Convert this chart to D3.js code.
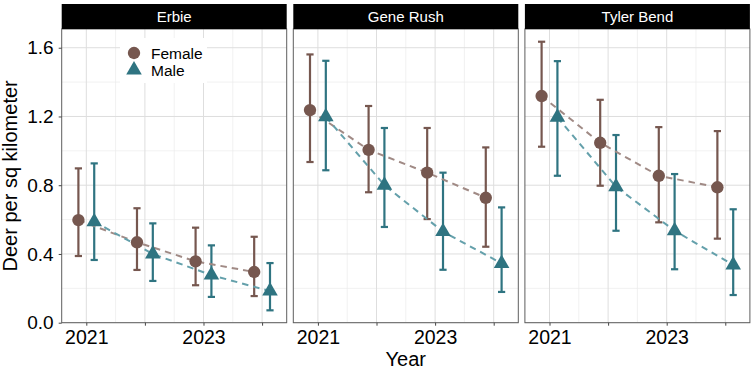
<!DOCTYPE html>
<html>
<head>
<meta charset="utf-8">
<script src="https://cdn.jsdelivr.net/npm/d3@7"></script>
<style>
  body { margin: 0; background: #fff; }
  svg { font-family: "Liberation Sans", Arial, sans-serif; }
</style>
</head>
<body>
<div id="chart"></div>
<script>
const sites = ["Erbie", "Gene Rush", "Tyler Bend"];
const years = [2021, 2022, 2023, 2024];
const yearLabels = ["2021", "", "2023", ""];
const yTicks = [0, 0.4, 0.8, 1.2, 1.6];
const yMinor = [0.2, 0.6, 1.0, 1.4];

// one row per site, one value per year
const femaleEst = [[0.597, 0.468, 0.357, 0.295], [1.237, 1.006, 0.873, 0.727], [1.319, 1.047, 0.855, 0.788]];
const femaleLo  = [[0.388, 0.307, 0.218, 0.155], [0.935, 0.759, 0.603, 0.442], [1.024, 0.797, 0.584, 0.489]];
const femaleHi  = [[0.898, 0.666, 0.553, 0.500], [1.561, 1.261, 1.133, 1.020], [1.635, 1.297, 1.138, 1.115]];
const maleEst   = [[0.588, 0.400, 0.277, 0.184], [1.198, 0.800, 0.530, 0.345], [1.195, 0.791, 0.535, 0.336]];
const maleLo    = [[0.365, 0.243, 0.150, 0.072], [0.887, 0.557, 0.308, 0.179], [0.855, 0.535, 0.311, 0.161]];
const maleHi    = [[0.927, 0.578, 0.450, 0.347], [1.524, 1.133, 0.873, 0.671], [1.522, 1.092, 0.865, 0.660]];

const sexes = [
    { name: "Female", est: femaleEst, lo: femaleLo, hi: femaleHi, color: "#76574f", line: "#a08a85", dodge: -0.135, shape: d3.symbolCircle, size: 120 },
    { name: "Male", est: maleEst, lo: maleLo, hi: maleHi, color: "#2f7481", line: "#64a0ab", dodge: 0.135, shape: d3.symbolTriangle, size: 105 }
];

const width = 755, height = 371;
const panelW = 225, panelLeft = 61.7, panelGap = 6.6;
const stripTop = 4, plotTop = 29, plotBottom = 322.7;
const font = "Liberation Sans, Arial, sans-serif";

const svg = d3.select("#chart").append("svg")
    .attr("width", width)
    .attr("height", height);

const x = d3.scaleLinear().domain([2020.58, 2024.42]).range([0, panelW]);
const y = d3.scaleLinear().domain([0, 1.709]).range([plotBottom, plotTop]);

sites.forEach((site, si) => {
    const g = svg.append("g").attr("transform", `translate(${panelLeft + si * (panelW + panelGap)},0)`);

    // grid
    g.selectAll(".ymin").data(yMinor).enter().append("line")
        .attr("x1", 0).attr("x2", panelW)
        .attr("y1", d => y(d)).attr("y2", d => y(d))
        .attr("stroke", "#ebebeb").attr("stroke-width", 0.7);
    g.selectAll(".xmin").data(years.slice(0, 3).map(d => d + 0.5)).enter().append("line")
        .attr("x1", d => x(d)).attr("x2", d => x(d))
        .attr("y1", plotTop).attr("y2", plotBottom)
        .attr("stroke", "#ebebeb").attr("stroke-width", 0.7);
    g.selectAll(".ymaj").data(yTicks).enter().append("line")
        .attr("x1", 0).attr("x2", panelW)
        .attr("y1", d => y(d)).attr("y2", d => y(d))
        .attr("stroke", "#dedede").attr("stroke-width", 1);
    g.selectAll(".xmaj").data(years).enter().append("line")
        .attr("x1", d => x(d)).attr("x2", d => x(d))
        .attr("y1", plotTop).attr("y2", plotBottom)
        .attr("stroke", "#dedede").attr("stroke-width", 1);

    // legend box sits in the first panel, over the grid
    if (si === 0) {
        const leg = g.append("g").attr("transform", `translate(${120 - panelLeft},0)`);
        leg.append("rect").attr("x", 0).attr("y", 38).attr("width", 87).attr("height", 45).attr("fill", "#fff");
        sexes.forEach((s, k) => {
            leg.append("path")
                .attr("d", d3.symbol().type(s.shape).size(s.size)())
                .attr("transform", `translate(14,${53 + k * 17})`)
                .attr("fill", s.color);
            leg.append("text")
                .attr("x", 31).attr("y", 58.5 + k * 17)
                .attr("font-size", 15.5)
                .text(s.name);
        });
    }

    // error bars
    sexes.forEach(s => {
        const eb = g.append("g");
        years.forEach((yr, i) => {
            const cx = x(yr + s.dodge);
            eb.append("line")
                .attr("x1", cx).attr("x2", cx)
                .attr("y1", y(s.lo[si][i])).attr("y2", y(s.hi[si][i]))
                .attr("stroke", s.color).attr("stroke-width", 2.2);
            [s.lo[si][i], s.hi[si][i]].forEach(v => {
                eb.append("line")
                    .attr("x1", cx - 3.6).attr("x2", cx + 3.6)
                    .attr("y1", y(v)).attr("y2", y(v))
                    .attr("stroke", s.color).attr("stroke-width", 2.2);
            });
        });
    });

    // dashed trend lines
    sexes.forEach(s => {
        const line = d3.line()
            .x((d, i) => x(years[i] + s.dodge))
            .y(d => y(d));
        g.append("path")
            .attr("d", line(s.est[si]))
            .attr("fill", "none")
            .attr("stroke", s.line)
            .attr("stroke-width", 2)
            .attr("stroke-dasharray", "6.5,5");
    });

    // points
    sexes.forEach(s => {
        g.selectAll(null).data(s.est[si]).enter().append("path")
            .attr("d", d3.symbol().type(s.shape).size(s.size)())
            .attr("transform", (d, i) => `translate(${x(years[i] + s.dodge)},${y(d)})`)
            .attr("fill", s.color);
    });

    // panel border
    g.append("rect")
        .attr("x", 0).attr("y", plotTop)
        .attr("width", panelW).attr("height", plotBottom - plotTop)
        .attr("fill", "none").attr("stroke", "#5e5e5e").attr("stroke-width", 1);

    // strip
    g.append("rect")
        .attr("x", 0).attr("y", stripTop)
        .attr("width", panelW).attr("height", plotTop - stripTop)
        .attr("fill", "#000");
    g.append("text")
        .attr("x", panelW / 2).attr("y", 21.8)
        .attr("text-anchor", "middle")
        .attr("fill", "#fff").attr("font-size", 15)
        .text(site);

    // x axis
    const xa = g.append("g").attr("transform", `translate(0,${plotBottom})`)
        .call(d3.axisBottom(x).tickValues(years).tickFormat((d, i) => yearLabels[i]).tickSize(3).tickPadding(4.5));
    xa.select(".domain").remove();
    xa.selectAll("line").attr("stroke", "#444");
    xa.selectAll("text").attr("font-size", 19.5).attr("fill", "#000").attr("font-family", font);

    if (si === 0) {
        const ya = g.append("g")
            .call(d3.axisLeft(y).tickValues(yTicks).tickFormat(d3.format(".1f")).tickSize(3).tickPadding(5));
        ya.select(".domain").remove();
        ya.selectAll("line").attr("stroke", "#444");
        ya.selectAll("text").attr("font-size", 19).attr("fill", "#000").attr("font-family", font);
    }
});

svg.append("text")
    .attr("x", panelLeft + (3 * panelW + 2 * panelGap) / 2)
    .attr("y", 366)
    .attr("text-anchor", "middle")
    .attr("font-size", 20)
    .text("Year");

svg.append("text")
    .attr("transform", `translate(17,${(plotTop + plotBottom) / 2}) rotate(-90)`)
    .attr("text-anchor", "middle")
    .attr("font-size", 20)
    .text("Deer per sq kilometer");
</script>
</body>
</html>
